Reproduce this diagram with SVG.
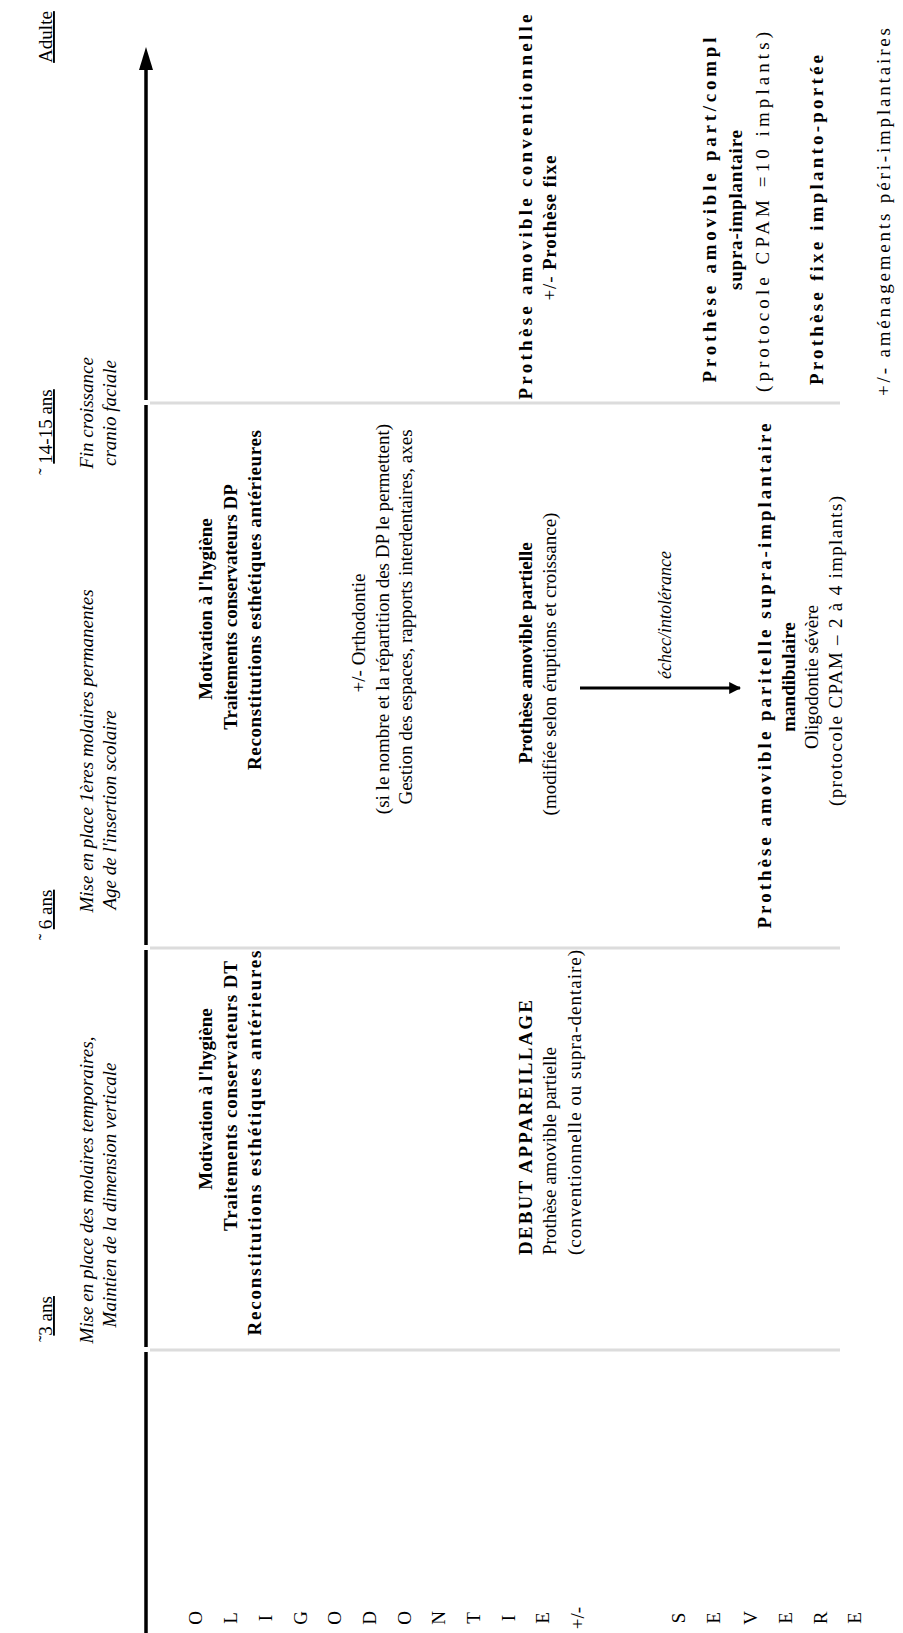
<svg xmlns="http://www.w3.org/2000/svg" width="903" height="1633" viewBox="0 0 903 1633">
<style>
text{font-family:"Liberation Serif","Times New Roman",serif;font-size:19px;fill:#000;text-anchor:middle}
.b{font-weight:bold}
.i{font-style:italic}
.u{text-decoration:underline}
.s{text-anchor:start}
.tick{stroke:#dcdcdc;stroke-width:3}
.axis{stroke:#000;stroke-width:3.5}
</style>
<defs>
<marker id="ah" viewBox="0 0 10 10" refX="9" refY="5" markerWidth="4" markerHeight="4" orient="auto"><path d="M0,0 L10,5 L0,10 z" fill="#000"/></marker>
</defs>
<rect width="903" height="1633" fill="#fff"/>
<g id="connectors">
<line class="tick" x1="150" y1="403" x2="840" y2="403"/>
<line class="tick" x1="150" y1="948" x2="840" y2="948"/>
<line class="tick" x1="150" y1="1350" x2="840" y2="1350"/>
<line class="axis" x1="146" y1="1633" x2="146" y2="1352"/>
<line class="axis" x1="146" y1="1347" x2="146" y2="950"/>
<line class="axis" x1="146" y1="945" x2="146" y2="405"/>
<line class="axis" x1="146" y1="400" x2="146" y2="68"/>
<polygon points="146,47 139,70 153,70" fill="#000"/>
<line x1="580" y1="688" x2="740" y2="688" stroke="#000" stroke-width="3" marker-end="url(#ah)"/>
</g>
<g id="labels">
<text class="u" transform="translate(52,37) rotate(-90)">Adulte</text>
<text transform="translate(52,432) rotate(-90)">˜ <tspan class="u">14-15 ans</tspan></text>
<text transform="translate(52,915) rotate(-90)">˜ <tspan class="u">6 ans</tspan></text>
<text transform="translate(52,1319) rotate(-90)">˜<tspan class="u">3 ans</tspan></text>
</g>
<g id="periods">
<text class="i" transform="translate(93,413) rotate(-90)">Fin croissance</text>
<text class="i" transform="translate(116,413) rotate(-90)">cranio faciale</text>
<text class="i" transform="translate(93,751) rotate(-90)">Mise en place 1ères molaires permanentes</text>
<text class="i" transform="translate(116,810) rotate(-90)">Age de l'insertion scolaire</text>
<text class="i" transform="translate(93,1190) rotate(-90)">Mise en place des molaires temporaires,</text>
<text class="i" transform="translate(116,1195) rotate(-90)">Maintien de la dimension verticale</text>
</g>
<g id="hygiene-3-6">
<text class="b" transform="translate(212,1099) rotate(-90)">Motivation à l'hygiène</text>
<text class="b" transform="translate(237,1096) rotate(-90)" textLength="270" lengthAdjust="spacing">Traitements conservateurs DT</text>
<text class="b" transform="translate(261,1143) rotate(-90)" textLength="385" lengthAdjust="spacing">Reconstitutions esthétiques antérieures</text>
</g>
<g id="appareillage-3-6">
<text class="b s" transform="translate(532,1255) rotate(-90)" textLength="255" lengthAdjust="spacing">DEBUT APPAREILLAGE</text>
<text class="s" transform="translate(556,1255) rotate(-90)">Prothèse amovible partielle</text>
<text class="s" transform="translate(581,1255) rotate(-90)" textLength="305" lengthAdjust="spacing">(conventionnelle ou supra-dentaire)</text>
</g>
<g id="hygiene-6-14">
<text class="b" transform="translate(212,609) rotate(-90)">Motivation à l'hygiène</text>
<text class="b" transform="translate(237,607) rotate(-90)">Traitements conservateurs DP</text>
<text class="b" transform="translate(261,600) rotate(-90)" textLength="340" lengthAdjust="spacing">Reconstitutions esthétiques antérieures</text>
</g>
<g id="orthodontie">
<text transform="translate(365,633) rotate(-90)">+/- Orthodontie</text>
<text transform="translate(389,619) rotate(-90)">(si le nombre et la répartition des DP le permettent)</text>
<text transform="translate(412,617) rotate(-90)">Gestion des espaces, rapports interdentaires, axes</text>
</g>
<g id="pap-6-14">
<text class="b" transform="translate(532,653) rotate(-90)">Prothèse amovible partielle</text>
<text transform="translate(556,664) rotate(-90)">(modifiée selon éruptions et croissance)</text>
</g>
<g id="echec">
<text class="i" transform="translate(671,615) rotate(-90)" textLength="128" lengthAdjust="spacingAndGlyphs">échec/intolérance</text>
</g>
<g id="supra-6-14">
<text class="b" transform="translate(771,676) rotate(-90)" textLength="505" lengthAdjust="spacing">Prothèse amovible paritelle supra-implantaire</text>
<text class="b" transform="translate(795,677) rotate(-90)">mandibulaire</text>
<text transform="translate(818,677) rotate(-90)">Oligodontie sévère</text>
<text transform="translate(842,651) rotate(-90)" textLength="310" lengthAdjust="spacing">(protocole CPAM – 2 à 4 implants)</text>
</g>
<g id="adulte-conv">
<text class="b" transform="translate(532,207) rotate(-90)" textLength="385" lengthAdjust="spacing">Prothèse amovible conventionnelle</text>
<text transform="translate(556,228) rotate(-90)" textLength="145" lengthAdjust="spacing">+/- <tspan class="b">Prothèse fixe</tspan></text>
</g>
<g id="adulte-supra">
<text class="b" transform="translate(716,210) rotate(-90)" textLength="345" lengthAdjust="spacing">Prothèse amovible part/compl</text>
<text class="b" transform="translate(742,210) rotate(-90)" textLength="160" lengthAdjust="spacing">supra-implantaire</text>
<text transform="translate(769,212) rotate(-90)" textLength="360" lengthAdjust="spacing">(protocole CPAM =10 implants)</text>
</g>
<g id="adulte-fixe">
<text class="b" transform="translate(823,220) rotate(-90)" textLength="330" lengthAdjust="spacing">Prothèse fixe implanto-portée</text>
</g>
<g id="adulte-amenagements">
<text transform="translate(890,212) rotate(-90)" textLength="368" lengthAdjust="spacing">+/- aménagements péri-implantaires</text>
</g>
<g id="oligodontie-severe">
<text transform="translate(202,1618) rotate(-90)">O</text>
<text transform="translate(237,1618) rotate(-90)">L</text>
<text transform="translate(272,1618) rotate(-90)">I</text>
<text transform="translate(307,1618) rotate(-90)">G</text>
<text transform="translate(341,1618) rotate(-90)">O</text>
<text transform="translate(376,1618) rotate(-90)">D</text>
<text transform="translate(411,1618) rotate(-90)">O</text>
<text transform="translate(445,1618) rotate(-90)">N</text>
<text transform="translate(480,1618) rotate(-90)">T</text>
<text transform="translate(515,1618) rotate(-90)">I</text>
<text transform="translate(549,1618) rotate(-90)">E</text>
<text transform="translate(584,1618) rotate(-90)">+/-</text>
<text transform="translate(685,1618) rotate(-90)">S</text>
<text transform="translate(720,1618) rotate(-90)">E</text>
<text transform="translate(757,1618) rotate(-90)">V</text>
<text transform="translate(792,1618) rotate(-90)">E</text>
<text transform="translate(827,1618) rotate(-90)">R</text>
<text transform="translate(861,1618) rotate(-90)">E</text>
</g>
</svg>
